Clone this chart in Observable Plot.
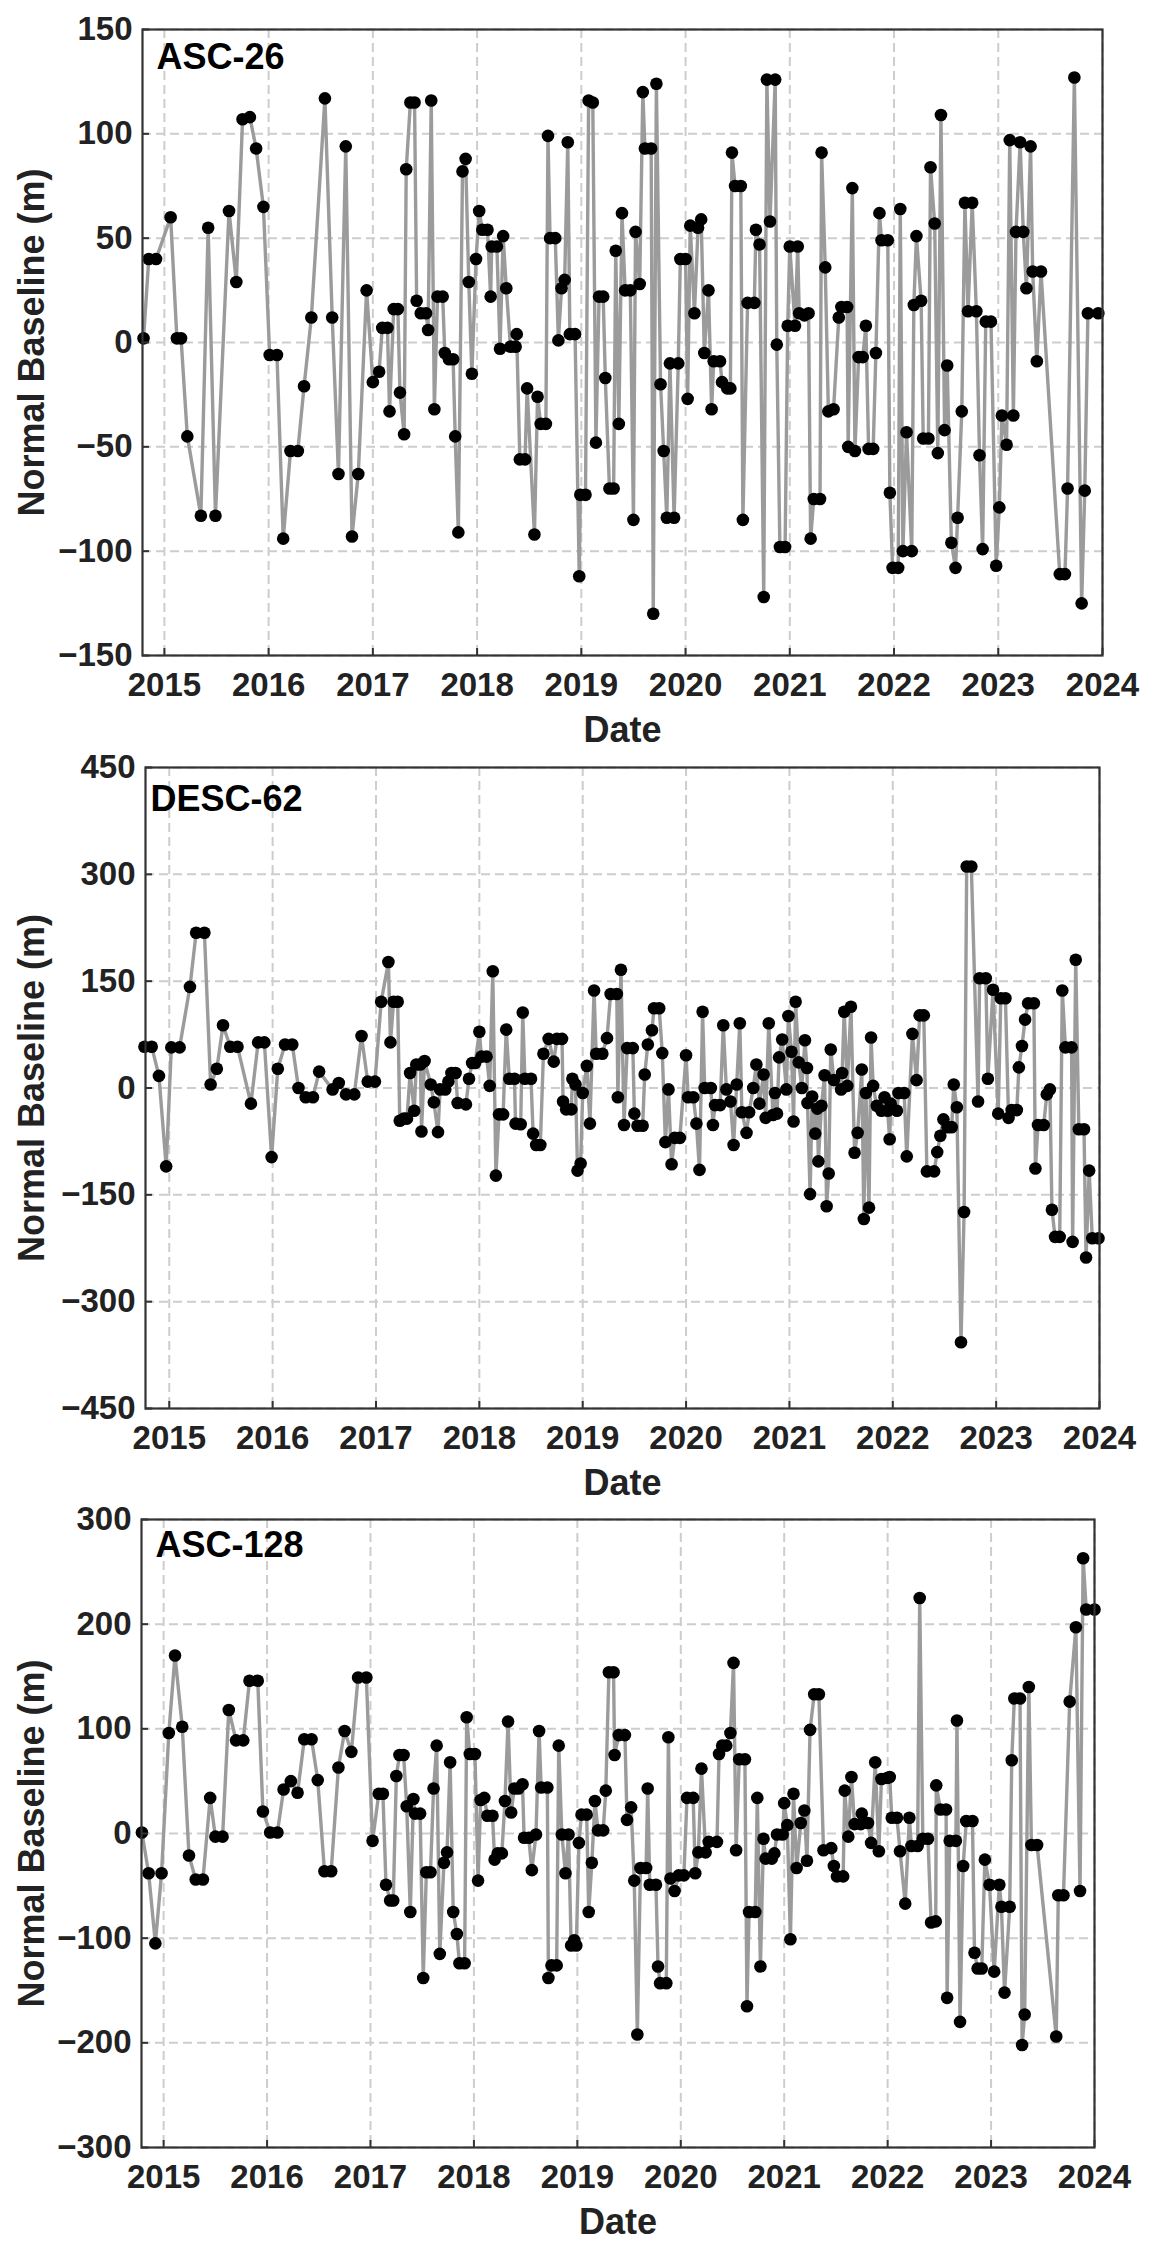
<!DOCTYPE html>
<html>
<head>
<meta charset="utf-8">
<script src="https://cdn.jsdelivr.net/npm/d3@7"></script>
<script src="https://cdn.jsdelivr.net/npm/@observablehq/plot@0.6"></script>
<style>
  html, body { margin: 0; padding: 0; background: #fff; }
  #wrap { position: relative; width: 1155px; height: 2248px; overflow: hidden; background: #fff; }
  #wrap > div { position: absolute; left: 0; }
</style>
</head>
<body>
<div id="wrap"></div>
<script>
// ---------- tick labels ----------
const yearTicks = [2015, 2016, 2017, 2018, 2019, 2020, 2021, 2022, 2023, 2024];
const asc26Ticks = [-150, -100, -50, 0, 50, 100, 150];
const desc62Ticks = [-450, -300, -150, 0, 150, 300, 450];
const asc128Ticks = [-300, -200, -100, 0, 100, 200, 300];
const panelTitles = ["ASC-26", "DESC-62", "ASC-128"];

// ---------- ASC-26 (decimal year, normal baseline m) ----------
const asc26Dates = [2014.80,2014.85,2014.92,2015.06,2015.12,2015.16,2015.22,2015.35,2015.42,2015.49,2015.62,2015.69,2015.75,2015.82,2015.88,2015.95,
2016.01,2016.08,2016.14,2016.21,2016.28,2016.34,2016.41,2016.54,2016.61,2016.67,2016.74,2016.80,2016.86,2016.94,
2017.00,2017.06,2017.09,2017.14,2017.16,2017.20,2017.24,2017.26,2017.30,2017.32,2017.36,2017.40,2017.42,2017.46,2017.51,2017.53,2017.56,2017.59,2017.62,2017.67,2017.69,2017.73,2017.77,2017.79,2017.82,2017.86,2017.89,2017.92,2017.95,2017.99,
2018.02,2018.05,2018.10,2018.13,2018.14,2018.19,2018.22,2018.25,2018.28,2018.32,2018.37,2018.38,2018.41,2018.46,2018.48,2018.55,2018.58,2018.61,2018.66,2018.68,2018.70,2018.75,2018.78,2018.81,2018.84,2018.87,2018.89,2018.94,2018.98,2018.99,
2019.04,2019.07,2019.11,2019.14,2019.17,2019.21,2019.23,2019.27,2019.31,2019.33,2019.36,2019.39,2019.42,2019.47,2019.50,2019.52,2019.56,2019.59,2019.61,2019.67,2019.69,2019.72,2019.76,2019.79,2019.82,2019.85,2019.89,2019.93,2019.95,
2020.00,2020.02,2020.045,2020.085,2020.12,2020.15,2020.18,2020.22,2020.25,2020.27,2020.33,2020.35,2020.40,2020.43,2020.445,2020.475,2020.53,2020.55,2020.595,2020.66,2020.675,2020.71,2020.75,2020.78,2020.81,2020.86,2020.875,2020.905,2020.955,2020.98,
2021.00,2021.05,2021.076,2021.09,2021.14,2021.18,2021.20,2021.23,2021.29,2021.305,2021.34,2021.37,2021.42,2021.47,2021.495,2021.55,2021.56,2021.60,2021.625,2021.66,2021.70,2021.73,2021.756,2021.80,2021.826,2021.86,2021.88,2021.94,2021.96,2021.986,
2022.04,2022.06,2022.085,2022.12,2022.17,2022.19,2022.215,2022.26,2022.28,2022.33,2022.35,2022.39,2022.42,2022.45,2022.485,2022.51,2022.55,2022.59,2022.61,2022.65,2022.68,2022.71,2022.75,2022.79,2022.82,2022.85,2022.88,2022.93,2022.98,
2023.01,2023.035,2023.08,2023.11,2023.145,2023.17,2023.21,2023.24,2023.27,2023.31,2023.33,2023.37,2023.41,2023.59,2023.64,2023.665,2023.73,2023.80,2023.83,2023.86,2023.96];
const asc26Values = [2,40,40,60,2,2,-45,-83,55,-83,63,29,107,108,93,65,
-6,-6,-94,-52,-52,-21,12,117,12,-63,94,-93,-63,25,
-19,-14,7,7,-33,16,16,-24,-44,83,115,115,20,14,14,6,116,-32,22,22,-5,-8,-8,-45,-91,82,88,29,-15,40,
63,54,54,22,46,46,-3,51,26,-2,-2,4,-56,-56,-22,-92,-26,-39,-39,99,50,50,1,26,30,96,4,4,-112,-73,
-73,116,115,-48,22,22,-17,-70,-70,44,-39,62,25,25,-85,53,28,120,93,93,-130,124,-20,-52,-84,-10,-84,-10,40,
40,-27,56,14,55,59,-5,25,-32,-9,-9,-19,-22,-22,91,75,75,-85,19,19,54,47,-122,126,58,126,-1,-98,-98,8,
46,8,46,14,13,14,-94,-75,-75,91,36,-33,-32,12,17,17,-50,74,-52,-7,-7,8,-51,-51,-5,62,49,49,-72,-108,
-108,64,-100,-43,-100,18,51,20,-46,-46,84,57,-53,109,-42,-11,-96,-108,-84,-33,67,15,67,15,-54,-99,10,10,-107,
-79,-35,-49,97,-35,53,96,53,26,94,34,-9,34,-111,-111,-70,127,-125,-71,14,14];

// ---------- DESC-62 ----------
const desc62Dates = [2014.76,2014.83,2014.90,2014.97,2015.02,2015.10,2015.20,2015.26,2015.34,2015.40,2015.46,2015.52,2015.59,2015.66,2015.79,2015.86,2015.92,2015.99,
2016.05,2016.12,2016.19,2016.25,2016.32,2016.39,2016.45,2016.58,2016.64,2016.71,2016.79,2016.86,2016.92,2016.99,
2017.05,2017.12,2017.14,2017.17,2017.21,2017.23,2017.27,2017.30,2017.33,2017.37,2017.39,2017.43,2017.44,2017.47,2017.53,2017.56,2017.60,2017.62,2017.67,2017.70,2017.73,2017.77,2017.79,2017.87,2017.90,2017.93,2017.96,
2018.00,2018.02,2018.07,2018.10,2018.13,2018.16,2018.19,2018.23,2018.26,2018.29,2018.34,2018.35,2018.40,2018.42,2018.44,2018.50,2018.52,2018.55,2018.59,2018.62,2018.67,2018.72,2018.75,2018.80,2018.81,2018.84,2018.89,2018.90,2018.93,2018.95,2018.98,
2019.00,2019.04,2019.07,2019.11,2019.13,2019.19,2019.235,2019.27,2019.33,2019.34,2019.37,2019.40,2019.43,2019.485,2019.50,2019.53,2019.58,2019.60,2019.63,2019.67,2019.69,2019.74,2019.77,2019.80,2019.83,2019.86,2019.89,2019.94,
2020.00,2020.02,2020.07,2020.10,2020.13,2020.16,2020.18,2020.24,2020.26,2020.28,2020.33,2020.36,2020.39,2020.43,2020.46,2020.49,2020.52,2020.54,2020.585,2020.61,2020.65,2020.68,2020.71,2020.75,2020.77,2020.80,2020.84,2020.86,2020.88,2020.90,2020.93,2020.97,2020.99,
2021.02,2021.04,2021.06,2021.09,2021.12,2021.15,2021.17,2021.175,2021.20,2021.22,2021.25,2021.27,2021.28,2021.31,2021.34,2021.36,2021.38,2021.40,2021.43,2021.50,2021.51,2021.53,2021.56,2021.595,2021.63,2021.66,2021.70,2021.72,2021.74,2021.77,2021.79,2021.81,2021.845,2021.89,2021.92,2021.95,2021.97,2021.98,
2022.04,2022.055,2022.11,2022.135,2022.19,2022.23,2022.26,2022.30,2022.33,2022.40,2022.43,2022.46,2022.49,2022.53,2022.57,2022.59,2022.62,2022.66,2022.69,2022.715,2022.76,2022.825,2022.84,2022.90,2022.92,2022.97,
2023.02,2023.045,2023.09,2023.12,2023.15,2023.20,2023.22,2023.25,2023.28,2023.31,2023.365,2023.38,2023.405,2023.46,2023.49,2023.52,2023.54,2023.57,2023.615,2023.64,2023.67,2023.73,2023.74,2023.77,2023.80,2023.85,2023.87,2023.90,2023.93,2023.99];
const desc62Values = [58,58,17,-110,57,57,142,218,218,5,27,88,58,58,-22,64,64,-97,
27,61,61,0,-13,-13,23,-2,7,-9,-9,73,9,9,
121,177,64,121,121,-46,-43,-43,21,-32,33,33,-61,38,5,-20,-62,-2,-2,9,21,21,-21,-23,13,35,35,
79,44,44,3,164,-123,-37,-37,82,13,13,-50,-51,106,13,13,-64,-80,-80,48,69,37,69,69,-19,-30,-30,13,5,-116,-106,
-7,31,-50,137,48,48,70,132,132,-13,166,-52,56,56,-36,-53,-53,19,61,81,112,112,49,-76,-2,-107,-70,-70,
46,-13,-13,-50,-115,107,0,0,-52,-24,-24,88,-2,-19,-80,5,91,-34,-63,-34,0,33,-22,19,-42,91,-38,-7,-36,43,68,-2,101,
51,-47,121,36,0,67,28,-21,-149,-12,-64,-29,-103,-25,18,-166,-120,54,11,-2,21,107,3,114,-91,-63,26,-184,-7,-168,71,3,-25,-32,-13,-32,-72,-22,
-32,-7,-7,-96,76,11,102,102,-117,-117,-90,-67,-44,-55,-55,5,-27,-357,-174,311,311,-19,154,154,13,138,
-36,126,126,-42,-31,-31,29,59,96,119,119,-113,-52,-52,-9,-2,-171,-209,-209,137,57,57,-216,180,-58,-58,-238,-116,-211,-211];

// ---------- ASC-128 ----------
const asc128Dates = [2014.79,2014.855,2014.92,2014.98,2015.05,2015.11,2015.18,2015.245,2015.31,2015.38,2015.45,2015.50,2015.57,2015.63,2015.70,2015.77,2015.83,2015.91,2015.96,
2016.03,2016.10,2016.16,2016.23,2016.295,2016.36,2016.43,2016.49,2016.555,2016.62,2016.69,2016.75,2016.815,2016.88,2016.96,
2017.02,2017.08,2017.12,2017.15,2017.19,2017.22,2017.25,2017.28,2017.32,2017.35,2017.385,2017.415,2017.43,2017.48,2017.51,2017.54,2017.58,2017.61,2017.64,2017.67,2017.71,2017.74,2017.77,2017.80,2017.835,2017.86,2017.91,2017.93,2017.96,
2018.01,2018.04,2018.065,2018.10,2018.13,2018.18,2018.20,2018.23,2018.27,2018.30,2018.33,2018.36,2018.39,2018.43,2018.47,2018.485,2018.53,2018.56,2018.60,2018.63,2018.65,2018.71,2018.72,2018.75,2018.80,2018.82,2018.85,2018.885,2018.915,2018.94,2018.97,2018.99,
2019.015,2019.04,2019.09,2019.11,2019.14,2019.17,2019.20,2019.25,2019.275,2019.305,2019.35,2019.36,2019.40,2019.46,2019.48,2019.52,2019.55,2019.58,2019.61,2019.665,2019.68,2019.70,2019.76,2019.78,2019.80,2019.86,2019.88,2019.90,2019.94,2019.98,
2020.03,2020.06,2020.12,2020.14,2020.17,2020.20,2020.24,2020.27,2020.35,2020.37,2020.40,2020.44,2020.48,2020.51,2020.535,2020.565,2020.62,2020.64,2020.66,2020.72,2020.74,2020.77,2020.80,2020.82,2020.88,2020.905,2020.93,2020.985,
2021.00,2021.03,2021.06,2021.09,2021.12,2021.16,2021.195,2021.22,2021.25,2021.29,2021.335,2021.38,2021.455,2021.48,2021.51,2021.57,2021.585,2021.62,2021.65,2021.68,2021.74,2021.75,2021.81,2021.84,2021.88,2021.915,2021.94,2021.995,
2022.02,2022.04,2022.09,2022.12,2022.17,2022.21,2022.23,2022.29,2022.31,2022.34,2022.39,2022.42,2022.465,2022.47,2022.51,2022.565,2022.575,2022.60,2022.66,2022.67,2022.70,2022.73,2022.76,2022.82,2022.84,2022.87,2022.91,2022.94,2022.985,
2023.03,2023.08,2023.10,2023.13,2023.18,2023.20,2023.225,2023.28,2023.30,2023.325,2023.365,2023.39,2023.445,2023.63,2023.65,2023.70,2023.76,2023.82,2023.86,2023.89,2023.92,2024.00];
const asc128Values = [1,-38,-105,-38,96,170,102,-21,-44,-44,34,-3,-3,118,89,89,146,146,21,
1,1,42,50,39,90,90,51,-36,-36,63,98,78,149,149,
-7,38,38,-49,-64,-64,55,75,75,26,-75,33,19,19,-138,-37,-37,43,84,-115,-28,-18,68,-75,-96,-124,-124,111,76,
76,-45,32,34,17,17,-25,-19,-19,31,107,20,43,43,47,-4,-4,-35,-1,98,44,44,-138,-126,-126,84,-1,-38,-1,-107,-102,-107,
-9,18,18,-75,-28,31,3,3,41,154,154,75,94,94,13,25,-45,-192,-33,-33,43,-49,-49,-127,-143,-143,92,-43,-55,-40,
-40,34,34,-38,-18,62,-18,-8,-8,76,84,84,96,163,-16,71,71,-165,-75,-75,34,-127,-5,-24,-24,-19,-1,-1,
29,8,-101,38,-33,10,22,-26,99,133,133,-16,-14,-31,-41,-41,41,-3,54,9,9,19,10,-9,68,-17,52,53,
54,15,15,-17,-67,15,-12,-12,225,-5,-5,-85,-84,46,23,23,-157,-7,-7,108,-180,-31,12,12,-114,-129,-129,-25,-49,
-132,-49,-70,-152,-70,70,129,129,-202,-173,140,-11,-11,-194,-59,-59,126,197,-55,263,214,214];

// ---------- drawing ----------
const FONT = "'Liberation Sans', Arial, Helvetica, sans-serif";
const W = 1155, MT = 20, MB = 100;

function panel(cfg) {
  const data = cfg.dates.map((t, i) => ({t, v: cfg.values[i]}));
  const plotW = W - cfg.mL - cfg.mR;
  const grid = {stroke: "#cdcdcd", strokeOpacity: 1, strokeWidth: 2, strokeDasharray: "9,5"};
  const svg = Plot.plot({
    width: W,
    height: MT + cfg.plotH + MB,
    marginTop: MT, marginBottom: MB, marginLeft: cfg.mL, marginRight: cfg.mR,
    style: {fontFamily: FONT, fontWeight: "bold", background: "white", overflow: "visible", color: "#222"},
    x: {domain: cfg.xDomain, ticks: yearTicks},
    y: {domain: [cfg.yTicks[0], cfg.yTicks[cfg.yTicks.length - 1]], ticks: cfg.yTicks},
    marks: [
      Plot.gridX(yearTicks, grid),
      Plot.gridY(cfg.yTicks, grid),
      Plot.line(data, {x: "t", y: "v", stroke: "#9b9b9b", strokeWidth: 3.4, strokeLinejoin: "round"}),
      Plot.dot(data, {x: "t", y: "v", r: 6.3, fill: "#000", stroke: "none"}),
      Plot.frame({stroke: "#333", strokeWidth: 2.2}),
      Plot.ruleX(yearTicks, {insetTop: cfg.plotH - 7, stroke: "#333", strokeWidth: 2}),
      Plot.ruleY(cfg.yTicks, {insetRight: plotW - 7, stroke: "#333", strokeWidth: 2}),
      Plot.axisX(yearTicks, {tickSize: 0, tickPadding: 17, fontSize: 33, fill: "#222", label: null, tickFormat: d => String(d)}),
      Plot.axisY(cfg.yTicks, {tickSize: 0, tickPadding: 10, fontSize: 33, fill: "#222", label: null}),
      Plot.text([cfg.title], {frameAnchor: "top-left", dx: cfg.titleDx, dy: cfg.titleDy, textAnchor: "start", lineAnchor: "bottom", fontSize: 36, fill: "#000"}),
      Plot.text(["Date"], {frameAnchor: "bottom", dy: 86, textAnchor: "middle", lineAnchor: "bottom", fontSize: 36, fill: "#222"}),
      Plot.text(["Normal Baseline (m)"], {frameAnchor: "left", dx: 32 - cfg.mL, rotate: -90, textAnchor: "middle", lineAnchor: "middle", fontSize: 36, fill: "#222"})
    ]
  });
  const holder = document.createElement("div");
  holder.style.top = (cfg.frameTop - MT) + "px";
  holder.appendChild(svg);
  document.getElementById("wrap").appendChild(holder);
}

panel({title: panelTitles[0], dates: asc26Dates, values: asc26Values, yTicks: asc26Ticks,
  xDomain: [2014.79, 2024], mL: 142, mR: 53, plotH: 626, frameTop: 29, titleDx: 14, titleDy: 39});
panel({title: panelTitles[1], dates: desc62Dates, values: desc62Values, yTicks: desc62Ticks,
  xDomain: [2014.77, 2024], mL: 145, mR: 56, plotH: 641, frameTop: 767, titleDx: 5, titleDy: 43});
panel({title: panelTitles[2], dates: asc128Dates, values: asc128Values, yTicks: asc128Ticks,
  xDomain: [2014.786, 2024], mL: 141, mR: 61, plotH: 628, frameTop: 1519, titleDx: 14, titleDy: 37});
</script>
</body>
</html>
